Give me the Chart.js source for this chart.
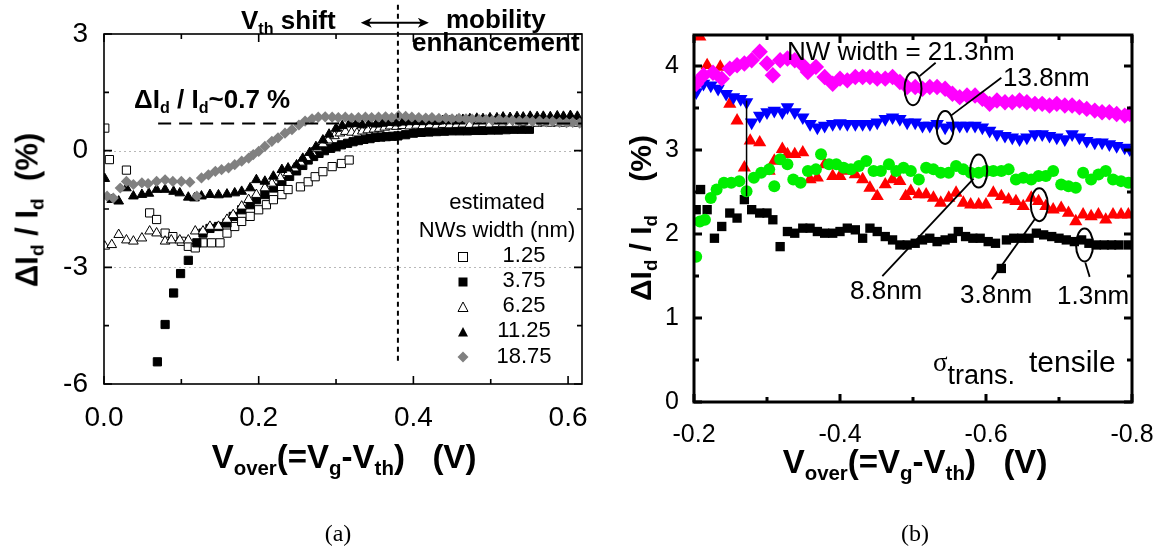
<!DOCTYPE html>
<html>
<head>
<meta charset="utf-8">
<script src="https://cdn.jsdelivr.net/npm/chart.js@4.4.0/dist/chart.umd.min.js"></script>
<style>
  body { margin: 0; background: #fff; }
  #wrap { position: relative; width: 1164px; height: 548px; overflow: hidden; font-family: "Liberation Sans", Arial, sans-serif; color: #000; }
  canvas { position: absolute; top: 0; }
  .t { position: absolute; white-space: nowrap; line-height: 1; }
  .b { font-weight: bold; }
  .sub { font-size: 0.62em; position: relative; top: 0.32em; }
  .rot { transform: translate(-50%, -50%) rotate(-90deg); }
  .mk { position: absolute; }
</style>
</head>
<body>
<div id="wrap">
  <canvas id="chartA" width="600" height="548" style="left:0"></canvas>
  <canvas id="chartB" width="564" height="548" style="left:600px"></canvas>

  <!-- panel (a) text -->
  <div class="t b" style="left:241px;top:7px;font-size:26px">V<span class="sub">th</span> shift</div>
  <div class="t b" style="left:446px;top:6px;font-size:26px">mobility</div>
  <div class="t b" style="left:412px;top:29px;font-size:26px">enhancement</div>
  <div class="t b" style="left:134px;top:86px;font-size:26px">ΔI<span class="sub">d</span> / I<span class="sub">d</span>~0.7 %</div>
  <div class="t" style="left:497px;top:191px;font-size:22px;transform:translateX(-50%)">estimated</div>
  <div class="t" style="left:497px;top:219px;font-size:22px;transform:translateX(-50%)">NWs width (nm)</div>
  <div class="t" style="left:524px;top:244px;font-size:22px;transform:translateX(-50%)">1.25</div>
  <div class="t" style="left:524px;top:269px;font-size:22px;transform:translateX(-50%)">3.75</div>
  <div class="t" style="left:524px;top:294px;font-size:22px;transform:translateX(-50%)">6.25</div>
  <div class="t" style="left:524px;top:319px;font-size:22px;transform:translateX(-50%)">11.25</div>
  <div class="t" style="left:524px;top:345px;font-size:22px;transform:translateX(-50%)">18.75</div>
  <svg class="mk" style="left:457px;top:251px" width="12" height="12"><rect x="1.5" y="1.5" width="9" height="9" fill="#fff" stroke="#000"/></svg>
  <svg class="mk" style="left:457px;top:276px" width="12" height="12"><rect x="1.5" y="1.5" width="9" height="9" fill="#000"/></svg>
  <svg class="mk" style="left:457px;top:301px" width="12" height="12"><polygon points="6,1 11,10.5 1,10.5" fill="#fff" stroke="#000"/></svg>
  <svg class="mk" style="left:457px;top:326px" width="12" height="12"><polygon points="6,1 11,10.5 1,10.5" fill="#000"/></svg>
  <svg class="mk" style="left:457px;top:351px" width="12" height="12"><polygon points="6,0.5 11.5,6 6,11.5 0.5,6" fill="#808080"/></svg>
  <div class="t b rot" style="left:27px;top:210px;font-size:31px">ΔI<span class="sub">d</span> / I<span class="sub">d</span>&nbsp;&nbsp;(%)</div>
  <div class="t b" style="left:344px;top:440px;font-size:33px;transform:translateX(-50%)">V<span class="sub">over</span>(=V<span class="sub">g</span>-V<span class="sub">th</span>)&nbsp;&nbsp;&nbsp;(V)</div>
  <div class="t" style="left:338px;top:521px;font-size:24px;font-family:'Liberation Serif',serif;transform:translateX(-50%)">(a)</div>

  <!-- panel (b) text -->
  <div class="t" style="left:787px;top:38px;font-size:26px">NW width = 21.3nm</div>
  <div class="t" style="left:1003px;top:64px;font-size:26px">13.8nm</div>
  <div class="t" style="left:850px;top:277px;font-size:26px">8.8nm</div>
  <div class="t" style="left:960px;top:281px;font-size:26px">3.8nm</div>
  <div class="t" style="left:1057px;top:282px;font-size:26px">1.3nm</div>
  <div class="t" style="left:933px;top:349px;font-size:27px"><span style="font-family:'Liberation Serif',serif">σ</span><span style="position:relative;top:13px">trans.</span></div>
  <div class="t" style="left:1029px;top:347px;font-size:30px">tensile</div>
  <div class="t b rot" style="left:641px;top:218px;font-size:30px">ΔI<span class="sub">d</span> / I<span class="sub">d</span>&nbsp;&nbsp;&nbsp;&nbsp;(%)</div>
  <div class="t b" style="left:915px;top:445px;font-size:33px;transform:translateX(-50%)">V<span class="sub">over</span>(=V<span class="sub">g</span>-V<span class="sub">th</span>)&nbsp;&nbsp;&nbsp;(V)</div>
  <div class="t" style="left:915px;top:521px;font-size:24px;font-family:'Liberation Serif',serif;transform:translateX(-50%)">(b)</div>
</div>

<script>
// ---------- panel (a) data: dIds/Id (%) vs Vover (V) ----------
const w125X = [0.001,0.007,0.029,0.059,0.068,0.079,0.089,0.1,0.109,0.118,0.128,0.139,0.15,0.159,0.169,0.178,0.189,0.2,0.21,0.219,0.23,0.238,0.254,0.264,0.273,0.283,0.295,0.307,0.317];
const w125Y = [0.58,-0.23,-0.5,-1.6,-1.77,-2.12,-2.21,-2.33,-2.46,-2.5,-2.37,-2.37,-2.37,-2.12,-1.95,-1.82,-1.69,-1.52,-1.39,-1.26,-1.13,-1.0,-0.93,-0.8,-0.67,-0.54,-0.41,-0.33,-0.24];

const w375X = [0.069,0.079,0.09,0.099,0.109,0.12,0.128,0.137,0.148,0.159,0.167,0.178,0.189,0.197,0.208,0.219,0.23,0.24,0.249,0.257,0.264,0.271,0.278,0.285,0.293,0.3,0.307,0.315,0.322,0.329,0.336,0.344,0.351,0.358,0.365,0.373,0.38,0.39,0.4,0.41,0.42,0.43,0.44,0.45,0.46,0.47,0.48,0.49,0.5,0.51,0.52,0.53,0.54,0.55];
const w375Y = [-5.43,-4.47,-3.66,-3.16,-2.82,-2.37,-2.12,-2.0,-1.95,-1.86,-1.69,-1.52,-1.39,-1.26,-1.13,-0.96,-0.79,-0.66,-0.52,-0.38,-0.24,-0.15,-0.07,0.0,0.06,0.1,0.15,0.19,0.23,0.26,0.29,0.31,0.34,0.35,0.36,0.37,0.38,0.41,0.45,0.47,0.48,0.49,0.5,0.51,0.51,0.51,0.52,0.52,0.53,0.53,0.54,0.55,0.55,0.55];

const w625X = [0.001,0.01,0.019,0.029,0.038,0.049,0.059,0.068,0.079,0.087,0.098,0.109,0.118,0.128,0.137,0.148,0.159,0.167,0.178,0.187,0.197,0.208,0.217,0.228,0.238,0.246,0.254,0.262,0.269,0.276,0.283,0.29,0.298,0.305,0.312,0.32,0.327,0.334,0.341,0.349,0.356,0.363,0.37,0.378,0.386,0.395,0.404,0.412,0.421,0.43,0.438,0.447,0.456,0.464,0.473,0.482,0.49,0.499,0.508,0.516,0.525,0.534,0.542,0.551,0.56,0.568,0.577,0.586,0.594,0.603,0.612];
const w625Y = [-2.46,-2.42,-2.16,-2.3,-2.33,-2.25,-2.07,-2.12,-2.33,-2.3,-2.3,-2.3,-2.07,-2.07,-1.95,-1.95,-1.77,-1.65,-1.43,-1.26,-1.13,-0.96,-0.84,-0.7,-0.57,-0.45,-0.3,-0.18,-0.05,0.06,0.17,0.27,0.38,0.45,0.49,0.47,0.45,0.5,0.53,0.55,0.57,0.6,0.63,0.62,0.64,0.63,0.65,0.64,0.66,0.65,0.67,0.66,0.67,0.68,0.67,0.68,0.69,0.68,0.69,0.7,0.69,0.7,0.71,0.7,0.7,0.71,0.7,0.71,0.7,0.71,0.7];

const w1125X = [0.001,0.01,0.019,0.029,0.038,0.049,0.058,0.068,0.079,0.09,0.098,0.109,0.117,0.126,0.137,0.148,0.159,0.169,0.178,0.189,0.197,0.208,0.219,0.23,0.238,0.249,0.257,0.266,0.274,0.283,0.291,0.3,0.308,0.317,0.326,0.334,0.343,0.352,0.36,0.369,0.378,0.386,0.395,0.404,0.412,0.421,0.43,0.438,0.447,0.456,0.464,0.473,0.482,0.49,0.499,0.508,0.516,0.525,0.534,0.542,0.551,0.56,0.568,0.577,0.586,0.594,0.603,0.612];
const w1125Y = [-0.72,-1.26,-1.3,-0.96,-1.17,-1.13,-1.1,-1.0,-1.0,-1.05,-1.09,-1.2,-1.22,-1.17,-1.13,-1.14,-1.12,-1.09,-1.05,-0.96,-0.75,-0.79,-0.66,-0.49,-0.45,-0.37,-0.2,-0.05,0.1,0.27,0.42,0.57,0.64,0.68,0.69,0.66,0.7,0.68,0.7,0.72,0.71,0.73,0.74,0.75,0.74,0.76,0.75,0.77,0.76,0.78,0.8,0.82,0.83,0.82,0.84,0.84,0.86,0.85,0.87,0.86,0.88,0.87,0.88,0.87,0.89,0.88,0.9,0.88];

const w1875X = [0.004,0.012,0.021,0.029,0.038,0.049,0.057,0.068,0.079,0.089,0.1,0.111,0.12,0.126,0.135,0.144,0.152,0.161,0.169,0.178,0.187,0.193,0.2,0.208,0.217,0.225,0.234,0.243,0.252,0.26,0.269,0.277,0.286,0.295,0.303,0.312,0.32,0.329,0.338,0.346,0.355,0.364,0.372,0.381,0.39,0.398,0.407,0.416,0.424,0.433,0.442,0.45,0.459,0.468,0.476,0.485,0.494,0.502,0.511,0.52,0.528,0.537,0.546,0.554,0.563,0.572,0.58,0.589,0.598,0.606,0.615];
const w1875Y = [-1.17,-1.22,-0.96,-0.79,-0.87,-0.83,-0.85,-0.79,-0.75,-0.79,-0.79,-0.81,-1.17,-0.7,-0.62,-0.53,-0.49,-0.44,-0.36,-0.27,-0.19,-0.1,-0.02,0.11,0.24,0.33,0.45,0.54,0.66,0.76,0.82,0.86,0.87,0.86,0.85,0.86,0.84,0.85,0.86,0.85,0.86,0.87,0.85,0.9,0.88,0.86,0.85,0.84,0.85,0.83,0.84,0.82,0.83,0.82,0.81,0.8,0.8,0.78,0.8,0.77,0.78,0.76,0.77,0.75,0.76,0.74,0.75,0.73,0.72,0.73,0.71];

// guide lines of panel (a)
const levelX = [0.07, 0.618];   // dIds/Id ~ 0.7 %
const levelY = [0.7, 0.7];
const splitX = [0.38, 0.38];    // Vth shift | mobility enhancement
const splitY = [3.75, -5.45];
const arrowX = [0.332, 0.42];
const arrowY = 3.29;

const ticksA = { xMin: 0, xMax: 0.618, yMin: -6, yMax: 3 };

// ---------- panel (b) data ----------
const nw213X = [-0.203,-0.213,-0.226,-0.238,-0.249,-0.259,-0.269,-0.279,-0.29,-0.3,-0.308,-0.318,-0.328,-0.338,-0.349,-0.356,-0.367,-0.379,-0.39,-0.4,-0.41,-0.421,-0.431,-0.441,-0.451,-0.462,-0.472,-0.482,-0.492,-0.503,-0.513,-0.523,-0.533,-0.544,-0.554,-0.564,-0.574,-0.585,-0.595,-0.605,-0.615,-0.626,-0.636,-0.646,-0.656,-0.667,-0.677,-0.687,-0.697,-0.708,-0.718,-0.728,-0.738,-0.749,-0.759,-0.769,-0.779,-0.79,-0.797];
const nw213Y = [3.79,3.89,3.92,3.85,3.97,4.01,4.03,4.07,4.17,4.03,3.89,4.07,4.09,4.07,4.01,3.93,3.99,3.87,3.79,3.85,3.83,3.87,3.87,3.87,3.85,3.85,3.87,3.81,3.75,3.75,3.73,3.75,3.75,3.73,3.67,3.63,3.65,3.65,3.61,3.55,3.59,3.57,3.57,3.59,3.57,3.55,3.55,3.53,3.55,3.53,3.53,3.51,3.49,3.47,3.45,3.45,3.43,3.41,3.43];

const nw138X = [-0.203,-0.213,-0.223,-0.233,-0.244,-0.254,-0.264,-0.272,-0.279,-0.29,-0.3,-0.31,-0.321,-0.328,-0.338,-0.349,-0.359,-0.369,-0.379,-0.39,-0.4,-0.41,-0.421,-0.431,-0.441,-0.451,-0.462,-0.472,-0.482,-0.492,-0.503,-0.513,-0.523,-0.533,-0.544,-0.554,-0.564,-0.574,-0.585,-0.595,-0.605,-0.615,-0.626,-0.636,-0.646,-0.656,-0.667,-0.677,-0.687,-0.697,-0.708,-0.718,-0.728,-0.738,-0.749,-0.759,-0.769,-0.779,-0.79,-0.797];
const nw138Y = [3.69,3.79,3.77,3.73,3.67,3.63,3.61,3.57,3.33,3.41,3.45,3.47,3.45,3.51,3.45,3.39,3.31,3.27,3.29,3.31,3.32,3.31,3.31,3.31,3.31,3.33,3.37,3.39,3.37,3.33,3.33,3.29,3.29,3.31,3.27,3.29,3.29,3.29,3.29,3.27,3.23,3.19,3.17,3.15,3.13,3.15,3.19,3.19,3.17,3.15,3.13,3.19,3.15,3.11,3.09,3.09,3.07,3.05,3.03,3.01];

const nw88X = [-0.203,-0.208,-0.215,-0.223,-0.231,-0.241,-0.251,-0.262,-0.272,-0.282,-0.292,-0.303,-0.31,-0.318,-0.328,-0.336,-0.346,-0.356,-0.367,-0.374,-0.385,-0.395,-0.405,-0.415,-0.426,-0.436,-0.446,-0.456,-0.467,-0.477,-0.487,-0.497,-0.508,-0.518,-0.528,-0.538,-0.549,-0.559,-0.569,-0.579,-0.59,-0.6,-0.61,-0.621,-0.631,-0.641,-0.651,-0.662,-0.672,-0.682,-0.692,-0.703,-0.713,-0.723,-0.733,-0.744,-0.754,-0.764,-0.774,-0.785,-0.795];
const nw88Y = [1.73,2.15,2.17,2.43,2.53,2.61,2.61,2.63,2.51,2.67,2.73,2.77,2.57,2.89,2.83,2.65,2.61,2.75,2.77,2.95,2.83,2.83,2.79,2.77,2.81,2.87,2.75,2.75,2.83,2.75,2.79,2.75,2.65,2.79,2.77,2.73,2.73,2.81,2.77,2.73,2.73,2.75,2.75,2.75,2.77,2.65,2.67,2.65,2.69,2.69,2.75,2.59,2.57,2.55,2.73,2.65,2.71,2.75,2.65,2.63,2.61];

const nw38X = [-0.208,-0.218,-0.236,-0.249,-0.259,-0.269,-0.277,-0.29,-0.303,-0.31,-0.321,-0.328,-0.338,-0.349,-0.359,-0.369,-0.379,-0.39,-0.4,-0.41,-0.421,-0.431,-0.441,-0.451,-0.462,-0.472,-0.482,-0.49,-0.497,-0.508,-0.518,-0.528,-0.538,-0.549,-0.559,-0.569,-0.579,-0.59,-0.6,-0.61,-0.621,-0.631,-0.641,-0.651,-0.662,-0.672,-0.682,-0.692,-0.703,-0.713,-0.723,-0.733,-0.744,-0.754,-0.764,-0.774,-0.785,-0.795];
const nw38Y = [4.35,4.01,3.99,3.55,3.35,2.79,3.11,3.09,2.75,2.87,3.01,2.95,2.95,2.97,2.65,2.67,2.83,2.69,2.69,2.75,2.71,2.65,2.55,2.45,2.59,2.65,2.63,2.45,2.51,2.47,2.47,2.43,2.37,2.43,2.49,2.37,2.35,2.35,2.35,2.49,2.45,2.41,2.39,2.33,2.43,2.39,2.33,2.29,2.31,2.25,2.15,2.23,2.21,2.23,2.17,2.23,2.23,2.23];

const nw13X = [-0.203,-0.209,-0.218,-0.228,-0.238,-0.249,-0.259,-0.269,-0.279,-0.29,-0.3,-0.308,-0.318,-0.328,-0.338,-0.349,-0.359,-0.369,-0.379,-0.39,-0.4,-0.41,-0.421,-0.431,-0.441,-0.451,-0.462,-0.472,-0.482,-0.492,-0.503,-0.513,-0.523,-0.533,-0.544,-0.554,-0.562,-0.572,-0.582,-0.592,-0.603,-0.613,-0.621,-0.628,-0.638,-0.649,-0.659,-0.669,-0.679,-0.69,-0.7,-0.71,-0.721,-0.731,-0.741,-0.751,-0.762,-0.772,-0.782,-0.795];
const nw13Y = [2.29,2.53,2.29,1.95,2.09,2.25,2.19,2.41,2.29,2.25,2.25,2.17,1.85,2.03,2.01,2.07,2.07,2.03,2.01,2.01,2.03,2.07,2.05,1.95,2.07,2.03,1.97,1.93,1.87,1.87,1.89,1.93,1.95,1.91,1.93,1.95,2.03,1.97,1.95,1.95,1.91,1.89,1.59,1.93,1.95,1.95,1.95,2.01,1.99,1.97,1.95,1.93,1.91,1.93,1.89,1.87,1.87,1.87,1.87,1.87];

// jump of the 13.8nm / 8.8nm curves
const jumpX = [-0.272, -0.272];
const jumpY = [3.59, 2.45];

// ellipses marking each curve, and the leader lines to their labels
const ovalX = [-0.5, -0.544, -0.59, -0.673, -0.735];
const ovalY = [3.73, 3.27, 2.75, 2.35, 1.87];
const leaders = [
  [[-0.509, 3.88], [-0.531, 4.04]],
  [[-0.552, 3.41], [-0.621, 3.86]],
  [[-0.583, 2.66], [-0.458, 1.5]],
  [[-0.667, 2.18], [-0.608, 1.46]],
  [[-0.736, 1.66], [-0.742, 1.49]]
];

const ticksB = { xMin: -0.8, xMax: -0.2, yMin: 0, yMax: 4.37 };

// ---------- helpers ----------
const FONT = '"Liberation Sans", Arial, sans-serif';
const pts = (xs, ys) => xs.map((x, i) => ({ x: x, y: ys[i] }));
const isEven = v => Math.abs(Math.round(v * 10)) % 2 === 0;

function marks(label, xs, ys, style, fill, border, radius, extra) {
  return Object.assign({
    label: label,
    data: pts(xs, ys),
    showLine: false,
    pointStyle: style,
    pointRadius: radius,
    pointBackgroundColor: fill,
    pointBorderColor: border,
    pointBorderWidth: 1
  }, extra || {});
}

function guide(xs, ys, dash, width, extra) {
  return Object.assign({
    data: pts(xs, ys),
    showLine: true,
    borderColor: '#000',
    borderWidth: width,
    borderDash: dash,
    pointRadius: 0,
    fill: false
  }, extra || {});
}

// frame with inward ticks on all four sides, plus optional dotted grid
const frame = {
  id: 'frame',
  beforeDatasetsDraw(chart, args, o) {
    if (!o.grid) return;
    const ctx = chart.ctx, a = chart.chartArea, y = chart.scales.y;
    ctx.save();
    ctx.strokeStyle = '#b8b8b8';
    ctx.lineWidth = 1;
    ctx.setLineDash([2, 3]);
    o.grid.forEach(v => {
      const py = Math.round(y.getPixelForValue(v)) + 0.5;
      ctx.beginPath();
      ctx.moveTo(a.left, py);
      ctx.lineTo(a.right, py);
      ctx.stroke();
    });
    ctx.restore();
  },
  afterDatasetsDraw(chart, args, o) {
    const ctx = chart.ctx, a = chart.chartArea, x = chart.scales.x, y = chart.scales.y;
    ctx.save();
    ctx.strokeStyle = '#000';
    ctx.lineWidth = o.width;
    ctx.beginPath();
    x.ticks.forEach(t => {
      const p = x.getPixelForValue(t.value);
      const len = o.majorX(t.value) ? o.major : o.minor;
      ctx.moveTo(p, a.bottom); ctx.lineTo(p, a.bottom - len);
      ctx.moveTo(p, a.top); ctx.lineTo(p, a.top + len);
    });
    y.ticks.forEach(t => {
      const p = y.getPixelForValue(t.value);
      const len = o.majorY(t.value) ? o.major : o.minor;
      ctx.moveTo(a.left, p); ctx.lineTo(a.left + len, p);
      ctx.moveTo(a.right, p); ctx.lineTo(a.right - len, p);
    });
    ctx.stroke();
    ctx.strokeRect(a.left, a.top, a.right - a.left, a.bottom - a.top);
    ctx.restore();
  }
};

// double-headed arrow above panel (a)
const arrow = {
  id: 'arrow',
  afterDraw(chart) {
    const ctx = chart.ctx, x = chart.scales.x, y = chart.scales.y;
    const x0 = x.getPixelForValue(arrowX[0]), x1 = x.getPixelForValue(arrowX[1]);
    const py = y.getPixelForValue(arrowY);
    ctx.save();
    ctx.strokeStyle = '#000';
    ctx.fillStyle = '#000';
    ctx.lineWidth = 2;
    ctx.beginPath();
    ctx.moveTo(x0 + 4, py); ctx.lineTo(x1 - 4, py);
    ctx.stroke();
    ctx.beginPath();
    ctx.moveTo(x0, py); ctx.lineTo(x0 + 11, py - 5); ctx.lineTo(x0 + 8, py); ctx.lineTo(x0 + 11, py + 5); ctx.closePath();
    ctx.moveTo(x1, py); ctx.lineTo(x1 - 11, py - 5); ctx.lineTo(x1 - 8, py); ctx.lineTo(x1 - 11, py + 5); ctx.closePath();
    ctx.fill();
    ctx.restore();
  }
};

// ellipses in panel (b)
const ovals = {
  id: 'ovals',
  afterDatasetsDraw(chart) {
    const ctx = chart.ctx, x = chart.scales.x, y = chart.scales.y;
    ctx.save();
    ctx.strokeStyle = '#000';
    ctx.lineWidth = 2;
    ovalX.forEach((v, i) => {
      ctx.beginPath();
      ctx.ellipse(x.getPixelForValue(v), y.getPixelForValue(ovalY[i]), 8.5, 16.5, 0, 0, Math.PI * 2);
      ctx.stroke();
    });
    ctx.restore();
  }
};

function fixScale(prop, size) {
  return function (s) {
    s[prop] = size;
    s.paddingLeft = 0; s.paddingRight = 0; s.paddingTop = 0; s.paddingBottom = 0;
  };
}

Chart.defaults.font.family = FONT;
Chart.defaults.color = '#000';

// ---------- chart (a) ----------
new Chart(document.getElementById('chartA'), {
  type: 'scatter',
  data: {
    datasets: [
      guide(splitX, splitY, [5, 4], 2, { clip: false }),
      guide(levelX, levelY, [13, 8], 2),
      marks('18.75', w1875X, w1875Y, 'rectRot', '#808080', '#808080', 5.6, { pointBorderWidth: 0 }),
      marks('11.25', w1125X, w1125Y, 'triangle', '#000', '#000', 5.6),
      marks('6.25', w625X, w625Y, 'triangle', '#fff', '#000', 5.6),
      marks('3.75', w375X, w375Y, 'rect', '#000', '#000', 5.8),
      marks('1.25', w125X, w125Y, 'rect', '#fff', '#000', 5.8)
    ]
  },
  options: {
    responsive: false,
    animation: false,
    devicePixelRatio: 1,
    layout: { padding: { left: 0, top: 34, right: 18, bottom: 0 } },
    plugins: {
      legend: { display: false },
      tooltip: { enabled: false },
      frame: { width: 1.6, major: 8, minor: 5, grid: [0, -3],
        majorX: v => isEven(v), majorY: v => Math.abs(v % 3) < 1e-6 }
    },
    scales: {
      x: {
        type: 'linear', min: ticksA.xMin, max: ticksA.xMax,
        grid: { display: false }, border: { display: false },
        ticks: { stepSize: 0.1, includeBounds: false, autoSkip: false, maxRotation: 0, padding: 9,
          font: { size: 28 }, callback: v => isEven(v) ? v.toFixed(1) : '' },
        afterFit: fixScale('height', 164)
      },
      y: {
        type: 'linear', min: ticksA.yMin, max: ticksA.yMax,
        grid: { display: false }, border: { display: false },
        ticks: { stepSize: 1.5, includeBounds: false, autoSkip: false, padding: 8,
          font: { size: 28 }, callback: v => Math.abs(v % 3) < 1e-6 ? String(Math.round(v)) : '' },
        afterFit: fixScale('width', 104)
      }
    }
  },
  plugins: [frame, arrow]
});

// ---------- chart (b) ----------
const leaderSets = leaders.map(l => guide([l[0][0], l[1][0]], [l[0][1], l[1][1]], [], 1.8));

new Chart(document.getElementById('chartB'), {
  type: 'scatter',
  data: {
    datasets: leaderSets.concat([
      guide(jumpX, jumpY, [], 1.5),
      marks('21.3nm', nw213X, nw213Y, 'rectRot', '#ff00ff', '#ff00ff', 8.2, { pointBorderWidth: 0 }),
      marks('13.8nm', nw138X, nw138Y, 'triangle', '#0000ff', '#0000ff', 7.8, { pointBorderWidth: 0, pointRotation: 180 }),
      marks('8.8nm', nw88X, nw88Y, 'circle', '#00ee00', '#00ee00', 6, { pointBorderWidth: 0 }),
      marks('3.8nm', nw38X, nw38Y, 'triangle', '#ff0000', '#ff0000', 7.6, { pointBorderWidth: 0 }),
      marks('1.3nm', nw13X, nw13Y, 'rect', '#000', '#000', 6.6, { pointBorderWidth: 0 })
    ])
  },
  options: {
    responsive: false,
    animation: false,
    devicePixelRatio: 1,
    layout: { padding: { left: 0, top: 35, right: 32, bottom: 0 } },
    plugins: {
      legend: { display: false },
      tooltip: { enabled: false },
      frame: { width: 3, major: 8, minor: 5,
        majorX: v => isEven(v), majorY: v => Math.abs(v - Math.round(v)) < 1e-6 }
    },
    scales: {
      x: {
        type: 'linear', min: ticksB.xMin, max: ticksB.xMax, reverse: true,
        grid: { display: false }, border: { display: false },
        ticks: { stepSize: 0.1, includeBounds: false, autoSkip: false, maxRotation: 0, padding: 10,
          font: { size: 25 }, callback: v => isEven(v) ? v.toFixed(1) : '' },
        afterFit: fixScale('height', 146)
      },
      y: {
        type: 'linear', min: ticksB.yMin, max: ticksB.yMax,
        grid: { display: false }, border: { display: false },
        ticks: { stepSize: 0.5, includeBounds: false, autoSkip: false, padding: 7,
          font: { size: 25 }, callback: v => Math.abs(v - Math.round(v)) < 1e-6 ? String(Math.round(v)) : '' },
        afterFit: fixScale('width', 94)
      }
    }
  },
  plugins: [frame, ovals]
});
</script>
</body>
</html>
